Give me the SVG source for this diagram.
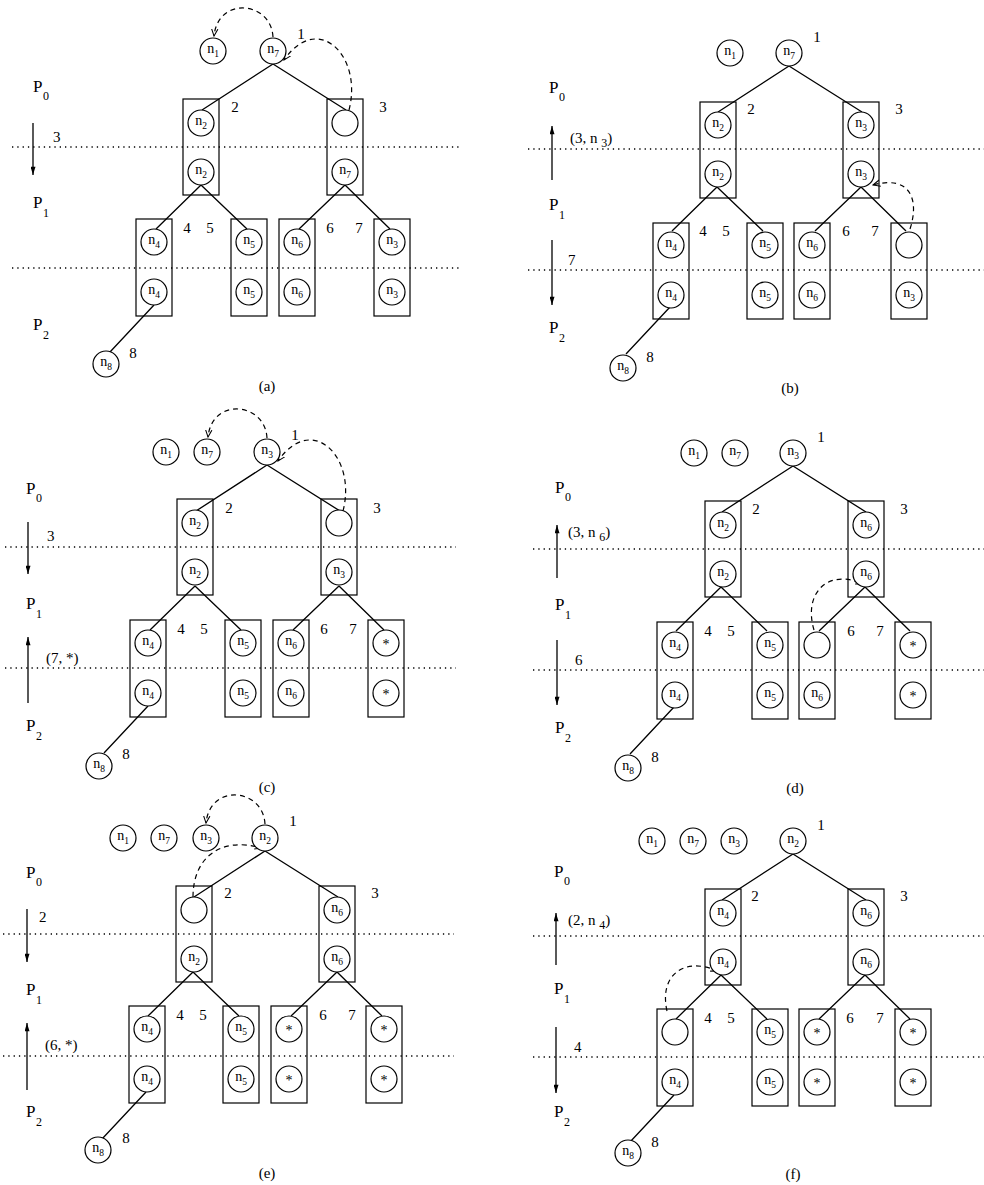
<svg xmlns="http://www.w3.org/2000/svg" width="984" height="1185" viewBox="0 0 984 1185">
<style>
.bg{fill:#fff}
.c{fill:#fff;stroke:#000;stroke-width:1.2}
.bx{fill:none;stroke:#000;stroke-width:1.2}
.e{stroke:#000;stroke-width:1.3;fill:none}
.d{stroke:#000;stroke-width:1.2;fill:none;stroke-dasharray:5 4;marker-end:url(#ah)}
.dot{stroke:#000;stroke-width:1.3;stroke-dasharray:1.3 4}
.ar{stroke:#000;stroke-width:1.3;marker-end:url(#sa)}
text{font-family:"Liberation Serif","Times New Roman",serif;fill:#000}
.nt{font-size:14px;text-anchor:middle}
.sub{font-size:9.5px}
.ast{font-size:14px;text-anchor:middle}
.lb{font-size:15px;text-anchor:middle}
.p{font-size:17px}
.ps{font-size:12px}
.t{font-size:15px}
.ts{font-size:12px}
</style>
<defs>
<marker id="ah" viewBox="0 0 10 10" refX="9" refY="5" markerWidth="8" markerHeight="8" markerUnits="userSpaceOnUse" orient="auto"><path d="M0,1 L9,5 L0,9" fill="none" stroke="#000" stroke-width="1.3"/></marker>
<marker id="sa" viewBox="0 0 10 6" refX="10" refY="3" markerWidth="9" markerHeight="5" markerUnits="userSpaceOnUse" orient="auto"><path d="M0,0 L10,3 L0,6 Z" fill="#000"/></marker>
</defs>
<rect class="bg" x="0" y="0" width="984" height="1185"/>

<!-- ================= Panel (a) ================= -->
<g id="panel-a" transform="translate(273,51)">
<g id="a-guides">
<line class="dot" x1="-261" y1="96" x2="189" y2="96"/>
<line class="dot" x1="-261" y1="217" x2="189" y2="217"/>
<text class="p" x="-240" y="41">P<tspan class="ps" dx="0.5" dy="8">0</tspan></text>
<text class="p" x="-240" y="157">P<tspan class="ps" dx="0.5" dy="9">1</tspan></text>
<text class="p" x="-240" y="279">P<tspan class="ps" dx="0.5" dy="9">2</tspan></text>
<line class="ar" x1="-240" y1="72" x2="-240" y2="124"/>
<text class="t" x="-220" y="91">3</text>
</g>
<g id="a-connectors">
<path class="e" d="M0,13L-71,59M0,13L73,59M-72,134L-117,178M-72,134L-26,178M72,134L26,178M72,134L117,178M-119,254L-163,301"/>
<path class="d" d="M0,-14C-2,-50 -55,-55 -59,-15"/>
<path class="d" d="M76,59C90,5 45,-40 11,9"/>
</g>
<g id="a-n1"><circle class="c" cx="-60" cy="0" r="13"/><text class="nt" x="-60" y="2">n<tspan class="sub" dy="4">1</tspan></text></g>
<g id="a-node1"><circle class="c" cx="0" cy="0" r="13"/><text class="nt" x="0" y="2">n<tspan class="sub" dy="4">7</tspan></text><text class="lb" x="28" y="-12">1</text></g>
<g id="a-node2"><rect class="bx" x="-90" y="48" width="36" height="96"/><circle class="c" cx="-72" cy="72" r="13"/><text class="nt" x="-72" y="74">n<tspan class="sub" dy="4">2</tspan></text><circle class="c" cx="-72" cy="121" r="13"/><text class="nt" x="-72" y="123">n<tspan class="sub" dy="4">2</tspan></text><text class="lb" x="-38" y="61">2</text></g>
<g id="a-node3"><rect class="bx" x="54" y="48" width="36" height="96"/><circle class="c" cx="72" cy="72" r="13"/><circle class="c" cx="72" cy="121" r="13"/><text class="nt" x="72" y="123">n<tspan class="sub" dy="4">7</tspan></text><text class="lb" x="110" y="61">3</text></g>
<g id="a-node4"><rect class="bx" x="-137" y="168" width="36" height="97"/><circle class="c" cx="-119" cy="191" r="13"/><text class="nt" x="-119" y="193">n<tspan class="sub" dy="4">4</tspan></text><circle class="c" cx="-119" cy="241" r="13"/><text class="nt" x="-119" y="243">n<tspan class="sub" dy="4">4</tspan></text><text class="lb" x="-86" y="182">4</text></g>
<g id="a-node5"><rect class="bx" x="-42" y="168" width="36" height="97"/><circle class="c" cx="-24" cy="191" r="13"/><text class="nt" x="-24" y="193">n<tspan class="sub" dy="4">5</tspan></text><circle class="c" cx="-24" cy="241" r="13"/><text class="nt" x="-24" y="243">n<tspan class="sub" dy="4">5</tspan></text><text class="lb" x="-63" y="182">5</text></g>
<g id="a-node6"><rect class="bx" x="6" y="168" width="36" height="97"/><circle class="c" cx="24" cy="191" r="13"/><text class="nt" x="24" y="193">n<tspan class="sub" dy="4">6</tspan></text><circle class="c" cx="24" cy="241" r="13"/><text class="nt" x="24" y="243">n<tspan class="sub" dy="4">6</tspan></text><text class="lb" x="57" y="182">6</text></g>
<g id="a-node7"><rect class="bx" x="101" y="168" width="36" height="97"/><circle class="c" cx="119" cy="191" r="13"/><text class="nt" x="119" y="193">n<tspan class="sub" dy="4">3</tspan></text><circle class="c" cx="119" cy="241" r="13"/><text class="nt" x="119" y="243">n<tspan class="sub" dy="4">3</tspan></text><text class="lb" x="86" y="182">7</text></g>
<g id="a-node8"><circle class="c" cx="-167" cy="313" r="13"/><text class="nt" x="-167" y="315">n<tspan class="sub" dy="4">8</tspan></text><text class="lb" x="-140" y="307">8</text></g>
<text class="lb" x="-6" y="340">(a)</text>
</g>

<!-- ================= Panel (b) ================= -->
<g id="panel-b" transform="translate(789,53)">
<g id="b-guides">
<line class="dot" x1="-261" y1="96" x2="195" y2="96"/>
<line class="dot" x1="-261" y1="217" x2="195" y2="217"/>
<text class="p" x="-240" y="40">P<tspan class="ps" dx="0.5" dy="8">0</tspan></text>
<text class="p" x="-240" y="157">P<tspan class="ps" dx="0.5" dy="9">1</tspan></text>
<text class="p" x="-240" y="280">P<tspan class="ps" dx="0.5" dy="9">2</tspan></text>
<line class="ar" x1="-237" y1="127" x2="-237" y2="73"/>
<text class="t" x="-219" y="90">(3, n <tspan class="ts" dy="4">3</tspan><tspan dy="-4">)</tspan></text>
<line class="ar" x1="-237" y1="187" x2="-237" y2="252"/>
<text class="t" x="-221" y="212">7</text>
</g>
<g id="b-connectors">
<path class="e" d="M0,13L-71,59M0,13L73,59M-72,134L-117,178M-72,134L-26,178M72,134L26,178M72,134L117,178M-119,254L-163,301"/>
<path class="d" d="M121,176C131,145 120,122 84,132"/>
</g>
<g id="b-n1"><circle class="c" cx="-59" cy="0" r="13"/><text class="nt" x="-59" y="2">n<tspan class="sub" dy="4">1</tspan></text></g>
<g id="b-node1"><circle class="c" cx="0" cy="0" r="13"/><text class="nt" x="0" y="2">n<tspan class="sub" dy="4">7</tspan></text><text class="lb" x="28" y="-11">1</text></g>
<g id="b-node2"><rect class="bx" x="-89" y="49" width="36" height="96"/><circle class="c" cx="-71" cy="72" r="13"/><text class="nt" x="-71" y="74">n<tspan class="sub" dy="4">2</tspan></text><circle class="c" cx="-71" cy="121" r="13"/><text class="nt" x="-71" y="123">n<tspan class="sub" dy="4">2</tspan></text><text class="lb" x="-38" y="61">2</text></g>
<g id="b-node3"><rect class="bx" x="54" y="49" width="36" height="96"/><circle class="c" cx="72" cy="72" r="13"/><text class="nt" x="72" y="74">n<tspan class="sub" dy="4">3</tspan></text><circle class="c" cx="72" cy="121" r="13"/><text class="nt" x="72" y="123">n<tspan class="sub" dy="4">3</tspan></text><text class="lb" x="110" y="61">3</text></g>
<g id="b-node4"><rect class="bx" x="-136" y="170" width="36" height="96"/><circle class="c" cx="-118" cy="192" r="13"/><text class="nt" x="-118" y="194">n<tspan class="sub" dy="4">4</tspan></text><circle class="c" cx="-118" cy="242" r="13"/><text class="nt" x="-118" y="244">n<tspan class="sub" dy="4">4</tspan></text><text class="lb" x="-86" y="183">4</text></g>
<g id="b-node5"><rect class="bx" x="-42" y="170" width="36" height="96"/><circle class="c" cx="-24" cy="192" r="13"/><text class="nt" x="-24" y="194">n<tspan class="sub" dy="4">5</tspan></text><circle class="c" cx="-24" cy="242" r="13"/><text class="nt" x="-24" y="244">n<tspan class="sub" dy="4">5</tspan></text><text class="lb" x="-63" y="183">5</text></g>
<g id="b-node6"><rect class="bx" x="5" y="170" width="36" height="96"/><circle class="c" cx="23" cy="192" r="13"/><text class="nt" x="23" y="194">n<tspan class="sub" dy="4">6</tspan></text><circle class="c" cx="23" cy="242" r="13"/><text class="nt" x="23" y="244">n<tspan class="sub" dy="4">6</tspan></text><text class="lb" x="57" y="183">6</text></g>
<g id="b-node7"><rect class="bx" x="102" y="170" width="36" height="96"/><circle class="c" cx="120" cy="192" r="13"/><circle class="c" cx="120" cy="242" r="13"/><text class="nt" x="120" y="244">n<tspan class="sub" dy="4">3</tspan></text><text class="lb" x="86" y="183">7</text></g>
<g id="b-node8"><circle class="c" cx="-166" cy="315" r="13"/><text class="nt" x="-166" y="317">n<tspan class="sub" dy="4">8</tspan></text><text class="lb" x="-139" y="309">8</text></g>
<text class="lb" x="1" y="340">(b)</text>
</g>

<!-- ================= Panel (c) ================= -->
<g id="panel-c" transform="translate(267,452)">
<g id="c-guides">
<line class="dot" x1="-262" y1="95" x2="189" y2="95"/>
<line class="dot" x1="-262" y1="216" x2="189" y2="216"/>
<text class="p" x="-241" y="42">P<tspan class="ps" dx="0.5" dy="8">0</tspan></text>
<text class="p" x="-241" y="157">P<tspan class="ps" dx="0.5" dy="9">1</tspan></text>
<text class="p" x="-241" y="279">P<tspan class="ps" dx="0.5" dy="9">2</tspan></text>
<line class="ar" x1="-239" y1="70" x2="-239" y2="122"/>
<text class="t" x="-220" y="89">3</text>
<line class="ar" x1="-239" y1="251" x2="-239" y2="185"/>
<text class="t" x="-221" y="211">(7, *)</text>
</g>
<g id="c-connectors">
<path class="e" d="M0,13L-71,59M0,13L73,59M-72,134L-117,178M-72,134L-26,178M72,134L26,178M72,134L117,178M-119,254L-163,301"/>
<path class="d" d="M0,-14C-2,-50 -55,-55 -59,-15"/>
<path class="d" d="M76,59C90,5 45,-40 11,9"/>
</g>
<g id="c-n1"><circle class="c" cx="-101" cy="0" r="13"/><text class="nt" x="-101" y="2">n<tspan class="sub" dy="4">1</tspan></text></g>
<g id="c-n7"><circle class="c" cx="-60" cy="0" r="13"/><text class="nt" x="-60" y="2">n<tspan class="sub" dy="4">7</tspan></text></g>
<g id="c-node1"><circle class="c" cx="0" cy="0" r="13"/><text class="nt" x="0" y="2">n<tspan class="sub" dy="4">3</tspan></text><text class="lb" x="28" y="-12">1</text></g>
<g id="c-node2"><rect class="bx" x="-90" y="47" width="36" height="96"/><circle class="c" cx="-72" cy="71" r="13"/><text class="nt" x="-72" y="73">n<tspan class="sub" dy="4">2</tspan></text><circle class="c" cx="-72" cy="120" r="13"/><text class="nt" x="-72" y="122">n<tspan class="sub" dy="4">2</tspan></text><text class="lb" x="-38" y="61">2</text></g>
<g id="c-node3"><rect class="bx" x="54" y="47" width="36" height="96"/><circle class="c" cx="72" cy="71" r="13"/><circle class="c" cx="72" cy="120" r="13"/><text class="nt" x="72" y="122">n<tspan class="sub" dy="4">3</tspan></text><text class="lb" x="110" y="61">3</text></g>
<g id="c-node4"><rect class="bx" x="-137" y="168" width="36" height="97"/><circle class="c" cx="-119" cy="191" r="13"/><text class="nt" x="-119" y="193">n<tspan class="sub" dy="4">4</tspan></text><circle class="c" cx="-119" cy="241" r="13"/><text class="nt" x="-119" y="243">n<tspan class="sub" dy="4">4</tspan></text><text class="lb" x="-86" y="182">4</text></g>
<g id="c-node5"><rect class="bx" x="-42" y="168" width="36" height="97"/><circle class="c" cx="-24" cy="191" r="13"/><text class="nt" x="-24" y="193">n<tspan class="sub" dy="4">5</tspan></text><circle class="c" cx="-24" cy="241" r="13"/><text class="nt" x="-24" y="243">n<tspan class="sub" dy="4">5</tspan></text><text class="lb" x="-63" y="182">5</text></g>
<g id="c-node6"><rect class="bx" x="6" y="168" width="36" height="97"/><circle class="c" cx="24" cy="191" r="13"/><text class="nt" x="24" y="193">n<tspan class="sub" dy="4">6</tspan></text><circle class="c" cx="24" cy="241" r="13"/><text class="nt" x="24" y="243">n<tspan class="sub" dy="4">6</tspan></text><text class="lb" x="57" y="182">6</text></g>
<g id="c-node7"><rect class="bx" x="101" y="168" width="36" height="97"/><circle class="c" cx="119" cy="191" r="13"/><text class="ast" x="119" y="197">*</text><circle class="c" cx="119" cy="241" r="13"/><text class="ast" x="119" y="247">*</text><text class="lb" x="86" y="182">7</text></g>
<g id="c-node8"><circle class="c" cx="-168" cy="314" r="13"/><text class="nt" x="-168" y="316">n<tspan class="sub" dy="4">8</tspan></text><text class="lb" x="-141" y="307">8</text></g>
<text class="lb" x="0" y="340">(c)</text>
</g>

<!-- ================= Panel (d) ================= -->
<g id="panel-d" transform="translate(793,453)">
<g id="d-guides">
<line class="dot" x1="-260" y1="96" x2="195" y2="96"/>
<line class="dot" x1="-260" y1="217" x2="195" y2="217"/>
<text class="p" x="-238" y="40">P<tspan class="ps" dx="0.5" dy="8">0</tspan></text>
<text class="p" x="-238" y="157">P<tspan class="ps" dx="0.5" dy="9">1</tspan></text>
<text class="p" x="-238" y="280">P<tspan class="ps" dx="0.5" dy="9">2</tspan></text>
<line class="ar" x1="-236" y1="125" x2="-236" y2="72"/>
<text class="t" x="-225" y="84">(3, n <tspan class="ts" dy="4">6</tspan><tspan dy="-4">)</tspan></text>
<line class="ar" x1="-236" y1="187" x2="-236" y2="252"/>
<text class="t" x="-218" y="212">6</text>
</g>
<g id="d-connectors">
<path class="e" d="M0,13L-71,59M0,13L73,59M-72,134L-117,178M-72,134L-26,178M72,134L26,178M72,134L117,178M-119,254L-163,301"/>
<path class="d" d="M21,177C10,140 35,115 70,131"/>
</g>
<g id="d-n1"><circle class="c" cx="-99" cy="0" r="13"/><text class="nt" x="-99" y="2">n<tspan class="sub" dy="4">1</tspan></text></g>
<g id="d-n7"><circle class="c" cx="-58" cy="0" r="13"/><text class="nt" x="-58" y="2">n<tspan class="sub" dy="4">7</tspan></text></g>
<g id="d-node1"><circle class="c" cx="0" cy="0" r="13"/><text class="nt" x="0" y="2">n<tspan class="sub" dy="4">3</tspan></text><text class="lb" x="28" y="-11">1</text></g>
<g id="d-node2"><rect class="bx" x="-88" y="48" width="36" height="96"/><circle class="c" cx="-70" cy="72" r="13"/><text class="nt" x="-70" y="74">n<tspan class="sub" dy="4">2</tspan></text><circle class="c" cx="-70" cy="121" r="13"/><text class="nt" x="-70" y="123">n<tspan class="sub" dy="4">2</tspan></text><text class="lb" x="-37" y="61">2</text></g>
<g id="d-node3"><rect class="bx" x="55" y="48" width="36" height="96"/><circle class="c" cx="73" cy="72" r="13"/><text class="nt" x="73" y="74">n<tspan class="sub" dy="4">6</tspan></text><circle class="c" cx="73" cy="121" r="13"/><text class="nt" x="73" y="123">n<tspan class="sub" dy="4">6</tspan></text><text class="lb" x="111" y="61">3</text></g>
<g id="d-node4"><rect class="bx" x="-136" y="169" width="36" height="97"/><circle class="c" cx="-118" cy="192" r="13"/><text class="nt" x="-118" y="194">n<tspan class="sub" dy="4">4</tspan></text><circle class="c" cx="-118" cy="242" r="13"/><text class="nt" x="-118" y="244">n<tspan class="sub" dy="4">4</tspan></text><text class="lb" x="-85" y="183">4</text></g>
<g id="d-node5"><rect class="bx" x="-41" y="169" width="36" height="97"/><circle class="c" cx="-23" cy="192" r="13"/><text class="nt" x="-23" y="194">n<tspan class="sub" dy="4">5</tspan></text><circle class="c" cx="-23" cy="242" r="13"/><text class="nt" x="-23" y="244">n<tspan class="sub" dy="4">5</tspan></text><text class="lb" x="-62" y="183">5</text></g>
<g id="d-node6"><rect class="bx" x="6" y="169" width="36" height="97"/><circle class="c" cx="24" cy="192" r="13"/><circle class="c" cx="24" cy="242" r="13"/><text class="nt" x="24" y="244">n<tspan class="sub" dy="4">6</tspan></text><text class="lb" x="58" y="183">6</text></g>
<g id="d-node7"><rect class="bx" x="102" y="169" width="36" height="97"/><circle class="c" cx="120" cy="192" r="13"/><text class="ast" x="120" y="198">*</text><circle class="c" cx="120" cy="242" r="13"/><text class="ast" x="120" y="248">*</text><text class="lb" x="87" y="183">7</text></g>
<g id="d-node8"><circle class="c" cx="-165" cy="315" r="13"/><text class="nt" x="-165" y="317">n<tspan class="sub" dy="4">8</tspan></text><text class="lb" x="-138" y="309">8</text></g>
<text class="lb" x="2" y="340">(d)</text>
</g>

<!-- ================= Panel (e) ================= -->
<g id="panel-e" transform="translate(265,838)">
<g id="e-guides">
<line class="dot" x1="-262" y1="96" x2="189" y2="96"/>
<line class="dot" x1="-262" y1="218" x2="189" y2="218"/>
<text class="p" x="-239" y="40">P<tspan class="ps" dx="0.5" dy="8">0</tspan></text>
<text class="p" x="-239" y="157">P<tspan class="ps" dx="0.5" dy="9">1</tspan></text>
<text class="p" x="-239" y="279">P<tspan class="ps" dx="0.5" dy="9">2</tspan></text>
<line class="ar" x1="-238" y1="71" x2="-238" y2="124"/>
<text class="t" x="-226" y="84">2</text>
<line class="ar" x1="-238" y1="252" x2="-238" y2="185"/>
<text class="t" x="-220" y="212">(6, *)</text>
</g>
<g id="e-connectors">
<path class="e" d="M0,13L-71,59M0,13L73,59M-72,134L-117,178M-72,134L-26,178M72,134L26,178M72,134L117,178M-119,254L-163,301"/>
<path class="d" d="M0,-14C-2,-50 -55,-55 -59,-15"/>
<path class="d" d="M-72,59C-72,20 -45,-2 -3,10"/>
</g>
<g id="e-n1"><circle class="c" cx="-142" cy="0" r="13"/><text class="nt" x="-142" y="2">n<tspan class="sub" dy="4">1</tspan></text></g>
<g id="e-n7"><circle class="c" cx="-101" cy="0" r="13"/><text class="nt" x="-101" y="2">n<tspan class="sub" dy="4">7</tspan></text></g>
<g id="e-n3"><circle class="c" cx="-59" cy="0" r="13"/><text class="nt" x="-59" y="2">n<tspan class="sub" dy="4">3</tspan></text></g>
<g id="e-node1"><circle class="c" cx="0" cy="0" r="13"/><text class="nt" x="0" y="2">n<tspan class="sub" dy="4">2</tspan></text><text class="lb" x="28" y="-12">1</text></g>
<g id="e-node2"><rect class="bx" x="-89" y="48" width="36" height="96"/><circle class="c" cx="-71" cy="72" r="13"/><circle class="c" cx="-71" cy="121" r="13"/><text class="nt" x="-71" y="123">n<tspan class="sub" dy="4">2</tspan></text><text class="lb" x="-37" y="60">2</text></g>
<g id="e-node3"><rect class="bx" x="54" y="48" width="36" height="96"/><circle class="c" cx="72" cy="72" r="13"/><text class="nt" x="72" y="74">n<tspan class="sub" dy="4">6</tspan></text><circle class="c" cx="72" cy="121" r="13"/><text class="nt" x="72" y="123">n<tspan class="sub" dy="4">6</tspan></text><text class="lb" x="110" y="60">3</text></g>
<g id="e-node4"><rect class="bx" x="-136" y="168" width="36" height="97"/><circle class="c" cx="-118" cy="191" r="13"/><text class="nt" x="-118" y="193">n<tspan class="sub" dy="4">4</tspan></text><circle class="c" cx="-118" cy="241" r="13"/><text class="nt" x="-118" y="243">n<tspan class="sub" dy="4">4</tspan></text><text class="lb" x="-85" y="182">4</text></g>
<g id="e-node5"><rect class="bx" x="-42" y="168" width="36" height="97"/><circle class="c" cx="-24" cy="191" r="13"/><text class="nt" x="-24" y="193">n<tspan class="sub" dy="4">5</tspan></text><circle class="c" cx="-24" cy="241" r="13"/><text class="nt" x="-24" y="243">n<tspan class="sub" dy="4">5</tspan></text><text class="lb" x="-62" y="182">5</text></g>
<g id="e-node6"><rect class="bx" x="6" y="168" width="36" height="97"/><circle class="c" cx="24" cy="191" r="13"/><text class="ast" x="24" y="197">*</text><circle class="c" cx="24" cy="241" r="13"/><text class="ast" x="24" y="247">*</text><text class="lb" x="58" y="182">6</text></g>
<g id="e-node7"><rect class="bx" x="101" y="168" width="36" height="97"/><circle class="c" cx="119" cy="191" r="13"/><text class="ast" x="119" y="197">*</text><circle class="c" cx="119" cy="241" r="13"/><text class="ast" x="119" y="247">*</text><text class="lb" x="87" y="182">7</text></g>
<g id="e-node8"><circle class="c" cx="-167" cy="312" r="13"/><text class="nt" x="-167" y="314">n<tspan class="sub" dy="4">8</tspan></text><text class="lb" x="-139" y="305">8</text></g>
<text class="lb" x="2" y="340">(e)</text>
</g>

<!-- ================= Panel (f) ================= -->
<g id="panel-f" transform="translate(793,841)">
<g id="f-guides">
<line class="dot" x1="-260" y1="95" x2="195" y2="95"/>
<line class="dot" x1="-260" y1="216" x2="195" y2="216"/>
<text class="p" x="-239" y="36">P<tspan class="ps" dx="0.5" dy="8">0</tspan></text>
<text class="p" x="-239" y="153">P<tspan class="ps" dx="0.5" dy="9">1</tspan></text>
<text class="p" x="-239" y="276">P<tspan class="ps" dx="0.5" dy="9">2</tspan></text>
<line class="ar" x1="-237" y1="124" x2="-237" y2="72"/>
<text class="t" x="-225" y="84">(2, n <tspan class="ts" dy="4">4</tspan><tspan dy="-4">)</tspan></text>
<line class="ar" x1="-237" y1="186" x2="-237" y2="252"/>
<text class="t" x="-219" y="211">4</text>
</g>
<g id="f-connectors">
<path class="e" d="M0,13L-71,59M0,13L73,59M-72,134L-117,178M-72,134L-26,178M72,134L26,178M72,134L117,178M-119,254L-163,301"/>
<path class="d" d="M-126,170C-134,135 -110,115 -75,130"/>
</g>
<g id="f-n1"><circle class="c" cx="-141" cy="0" r="13"/><text class="nt" x="-141" y="2">n<tspan class="sub" dy="4">1</tspan></text></g>
<g id="f-n7"><circle class="c" cx="-100" cy="0" r="13"/><text class="nt" x="-100" y="2">n<tspan class="sub" dy="4">7</tspan></text></g>
<g id="f-n3"><circle class="c" cx="-59" cy="0" r="13"/><text class="nt" x="-59" y="2">n<tspan class="sub" dy="4">3</tspan></text></g>
<g id="f-node1"><circle class="c" cx="0" cy="0" r="13"/><text class="nt" x="0" y="2">n<tspan class="sub" dy="4">2</tspan></text><text class="lb" x="28" y="-11">1</text></g>
<g id="f-node2"><rect class="bx" x="-88" y="48" width="36" height="96"/><circle class="c" cx="-70" cy="72" r="13"/><text class="nt" x="-70" y="74">n<tspan class="sub" dy="4">4</tspan></text><circle class="c" cx="-70" cy="121" r="13"/><text class="nt" x="-70" y="123">n<tspan class="sub" dy="4">4</tspan></text><text class="lb" x="-38" y="60">2</text></g>
<g id="f-node3"><rect class="bx" x="55" y="48" width="36" height="96"/><circle class="c" cx="73" cy="72" r="13"/><text class="nt" x="73" y="74">n<tspan class="sub" dy="4">6</tspan></text><circle class="c" cx="73" cy="121" r="13"/><text class="nt" x="73" y="123">n<tspan class="sub" dy="4">6</tspan></text><text class="lb" x="111" y="60">3</text></g>
<g id="f-node4"><rect class="bx" x="-136" y="168" width="36" height="97"/><circle class="c" cx="-118" cy="191" r="13"/><circle class="c" cx="-118" cy="241" r="13"/><text class="nt" x="-118" y="243">n<tspan class="sub" dy="4">4</tspan></text><text class="lb" x="-85" y="182">4</text></g>
<g id="f-node5"><rect class="bx" x="-41" y="168" width="36" height="97"/><circle class="c" cx="-23" cy="191" r="13"/><text class="nt" x="-23" y="193">n<tspan class="sub" dy="4">5</tspan></text><circle class="c" cx="-23" cy="241" r="13"/><text class="nt" x="-23" y="243">n<tspan class="sub" dy="4">5</tspan></text><text class="lb" x="-62" y="182">5</text></g>
<g id="f-node6"><rect class="bx" x="6" y="168" width="36" height="97"/><circle class="c" cx="24" cy="191" r="13"/><text class="ast" x="24" y="197">*</text><circle class="c" cx="24" cy="241" r="13"/><text class="ast" x="24" y="247">*</text><text class="lb" x="57" y="182">6</text></g>
<g id="f-node7"><rect class="bx" x="102" y="168" width="36" height="97"/><circle class="c" cx="120" cy="191" r="13"/><text class="ast" x="120" y="197">*</text><circle class="c" cx="120" cy="241" r="13"/><text class="ast" x="120" y="247">*</text><text class="lb" x="87" y="182">7</text></g>
<g id="f-node8"><circle class="c" cx="-165" cy="312" r="13"/><text class="nt" x="-165" y="314">n<tspan class="sub" dy="4">8</tspan></text><text class="lb" x="-138" y="306">8</text></g>
<text class="lb" x="0" y="338">(f)</text>
</g>
</svg>
